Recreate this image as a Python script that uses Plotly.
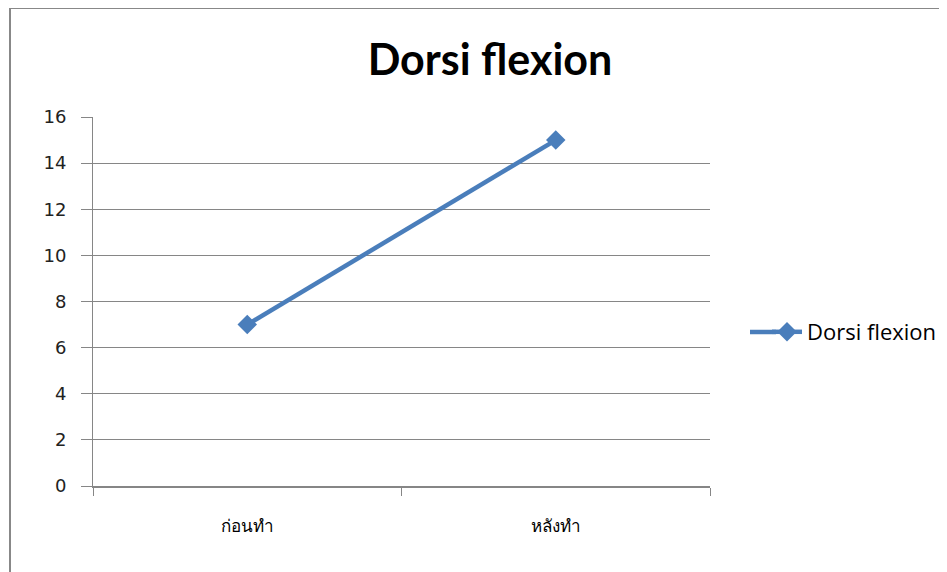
import plotly.graph_objects as go

categories = ["ก่อนทำ", "หลังทำ"]
values = [7, 15]
series_name = "Dorsi flexion"
y_ticks = [0, 2, 4, 6, 8, 10, 12, 14, 16]

W, H = 947, 572
OFF = 8  # page body margin offset
L, R, T, B = 93 - OFF, 710 - OFF, 117 - OFF, 486 - OFF
pw, ph = R - L, B - T

def px(x):
    return (x - OFF - L) / pw

def py(y):
    return (B - (y - OFF)) / ph

fig = go.Figure()
fig.add_trace(go.Scatter(
    x=categories, y=values, name=series_name, mode="lines+markers",
    line=dict(color="#4a7ebb", width=4.5),
    marker=dict(symbol="diamond", size=15, color="#4a7ebb"),
))

fig.update_layout(
    width=W, height=H,
    margin=dict(l=L, r=W - R, t=T, b=H - B, pad=0),
    paper_bgcolor="white", plot_bgcolor="white",
    title=dict(text="<b>Dorsi flexion</b>", x=(490 - OFF) / W, xanchor="center",
               y=1 - (60 - OFF) / H, yanchor="middle",
               font=dict(family="Lato, Open Sans, sans-serif", size=43, color="black")),
    showlegend=True,
    legend=dict(x=px(767), y=py(332), xanchor="left", yanchor="middle",
                font=dict(family="Open Sans, sans-serif", size=22, color="black"),
                bgcolor="rgba(0,0,0,0)"),
    xaxis=dict(type="category", range=[-0.5, 1.5], showgrid=False,
               showline=True, linecolor="#868686", linewidth=2,
               ticks="outside", tickson="boundaries", ticklen=8, tickcolor="#868686",
               tickfont=dict(family="Noto Sans, sans-serif", size=17, color="black"),
               ticklabelstandoff=24, fixedrange=True),
    yaxis=dict(range=[0, 16], tickvals=y_ticks, showgrid=True, gridcolor="#868686",
               gridwidth=1, showline=True, linecolor="#868686", linewidth=1,
               ticks="outside", ticklen=11, tickcolor="#868686",
               tickfont=dict(family="DejaVu Sans, sans-serif", size=18, color="#222"),
               ticklabelstandoff=11, zeroline=False, fixedrange=True),
    shapes=[
        dict(type="rect", xref="paper", yref="paper",
             x0=px(10), x1=px(990), y0=py(620), y1=py(8),
             line=dict(color="#888888", width=2), layer="below"),
        # extend the legend swatch line to the left, as in the reference
        dict(type="line", xref="paper", yref="paper",
             x0=px(750), x1=px(776), y0=py(332), y1=py(332),
             line=dict(color="#4a7ebb", width=4.5)),
    ],
)

fig.write_html("out.html")
